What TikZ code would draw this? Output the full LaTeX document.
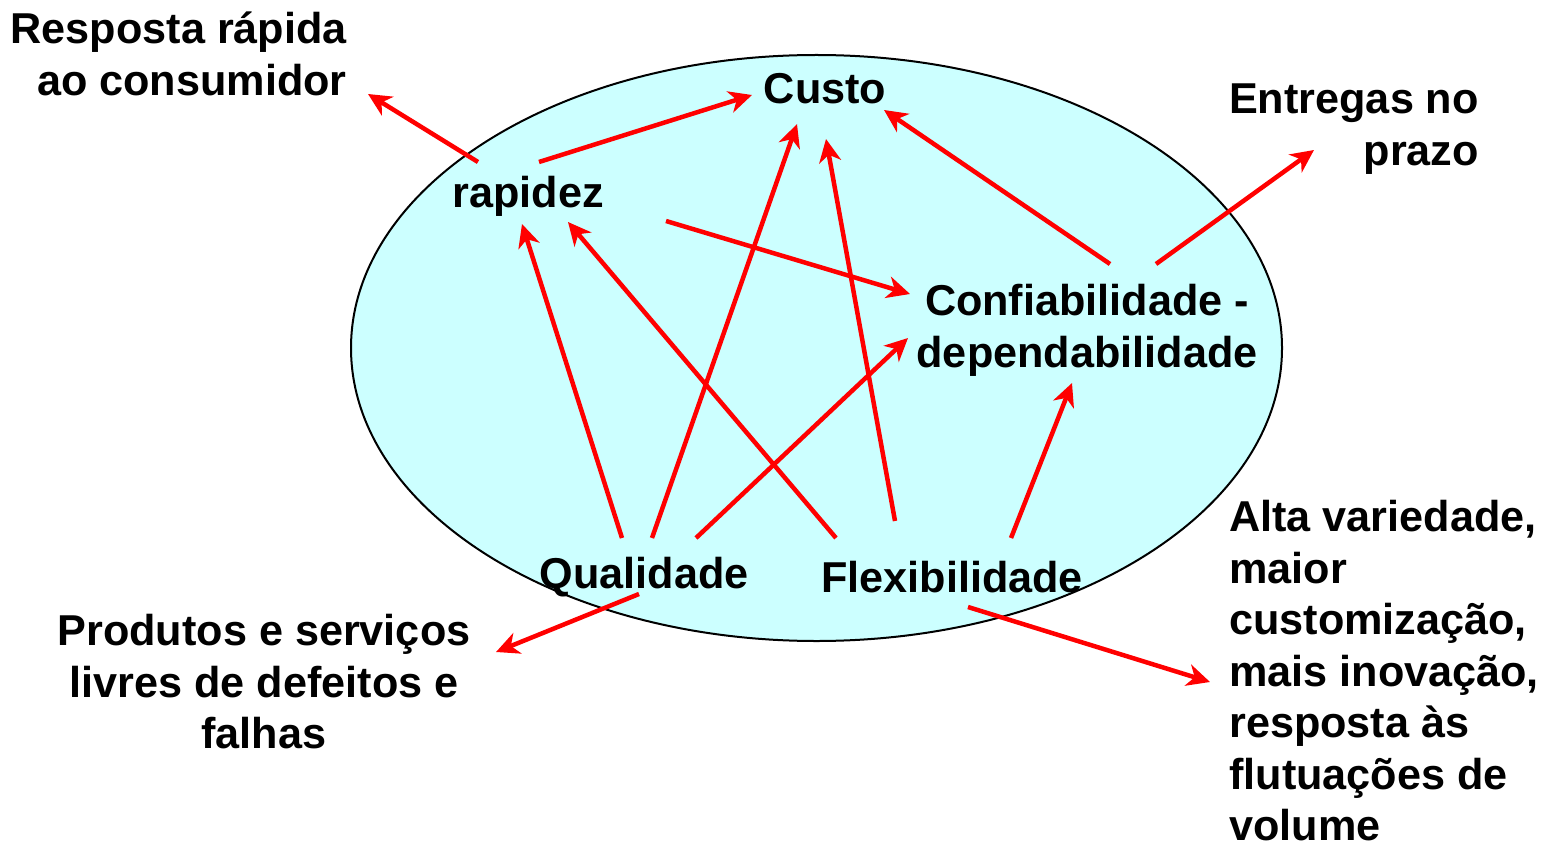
\documentclass[tikz,border=0pt]{standalone}
\usepackage{fontspec}
\setmainfont{Liberation Sans}
\usetikzlibrary{arrows.meta,shapes.geometric}
\definecolor{ovalfill}{RGB}{204,255,255}
\begin{document}
\begin{tikzpicture}[x=1pt,y=-1pt,
  lbl/.style={font=\fontsize{43.2}{51.5}\selectfont\bfseries, inner sep=0pt},
  arr/.style={draw=red, line width=4.5pt, -{Stealth[length=23pt,width=22pt,inset=7pt]}}]
\useasboundingbox (0,0) rectangle (1554,842);
\clip (0,0) rectangle (1554,842);
\node[draw, line width=2pt, fill=ovalfill, ellipse, inner sep=0pt,
      minimum width=931pt, minimum height=586pt] (oval) at (816.5,348) {};
% labels
\node[lbl, align=right, anchor=north east] (resp) at (347,12) {Resposta rápida\\ao consumidor};
\node[lbl] (custo) at (825,89) {Custo};
\node[lbl] (rap) at (528,196) {rapidez};
\node[lbl, align=right, anchor=north east] (entr) at (1479,84) {Entregas no\\prazo};
\node[lbl, align=center, anchor=north] (conf) at (1087,284) {Confiabilidade -\\dependabilidade};
\node[lbl] (qual) at (644,577) {Qualidade};
\node[lbl] (flex) at (952,577) {Flexibilidade};
\node[lbl, align=center, anchor=north] (prod) at (264,614) {Produtos e serviços\\livres de defeitos e\\falhas};
\node[lbl, align=left, anchor=north west] (alta) at (1229,500) {Alta variedade,\\maior\\customização,\\mais inovação,\\resposta às\\flutuações de\\volume};
% connector end points
\coordinate (rapOut1) at (478,162);
\coordinate (respIn) at (368,94);
\coordinate (rapOut2) at (539,162);
\coordinate (custoIn1) at (752,95);
\coordinate (rapOut3) at (666,221);
\coordinate (confIn1) at (910,294);
\coordinate (qualOut1) at (622,538);
\coordinate (rapIn1) at (522,224);
\coordinate (qualOut2) at (652,538);
\coordinate (custoIn2) at (797,124);
\coordinate (qualOut3) at (696,538);
\coordinate (confIn2) at (908,338);
\coordinate (flexOut1) at (836,538);
\coordinate (rapIn2) at (568,222);
\coordinate (flexOut2) at (895,521);
\coordinate (custoIn3) at (826,139);
\coordinate (flexOut3) at (1011,538);
\coordinate (confIn3) at (1072,383);
\coordinate (confOut1) at (1110,264);
\coordinate (custoIn4) at (884,110);
\coordinate (confOut2) at (1156,264);
\coordinate (entrIn) at (1314,150);
\coordinate (qualOut4) at (639,594);
\coordinate (prodIn) at (496,652);
\coordinate (flexOut4) at (968,607);
\coordinate (altaIn) at (1210,682);
% connectors
\draw[arr] (rapOut1) -- (respIn);
\draw[arr] (rapOut2) -- (custoIn1);
\draw[arr] (rapOut3) -- (confIn1);
\draw[arr] (qualOut1) -- (rapIn1);
\draw[arr] (qualOut2) -- (custoIn2);
\draw[arr] (qualOut3) -- (confIn2);
\draw[arr] (flexOut1) -- (rapIn2);
\draw[arr] (flexOut2) -- (custoIn3);
\draw[arr] (flexOut3) -- (confIn3);
\draw[arr] (confOut1) -- (custoIn4);
\draw[arr] (confOut2) -- (entrIn);
\draw[arr] (qualOut4) -- (prodIn);
\draw[arr] (flexOut4) -- (altaIn);
\end{tikzpicture}
\end{document}
